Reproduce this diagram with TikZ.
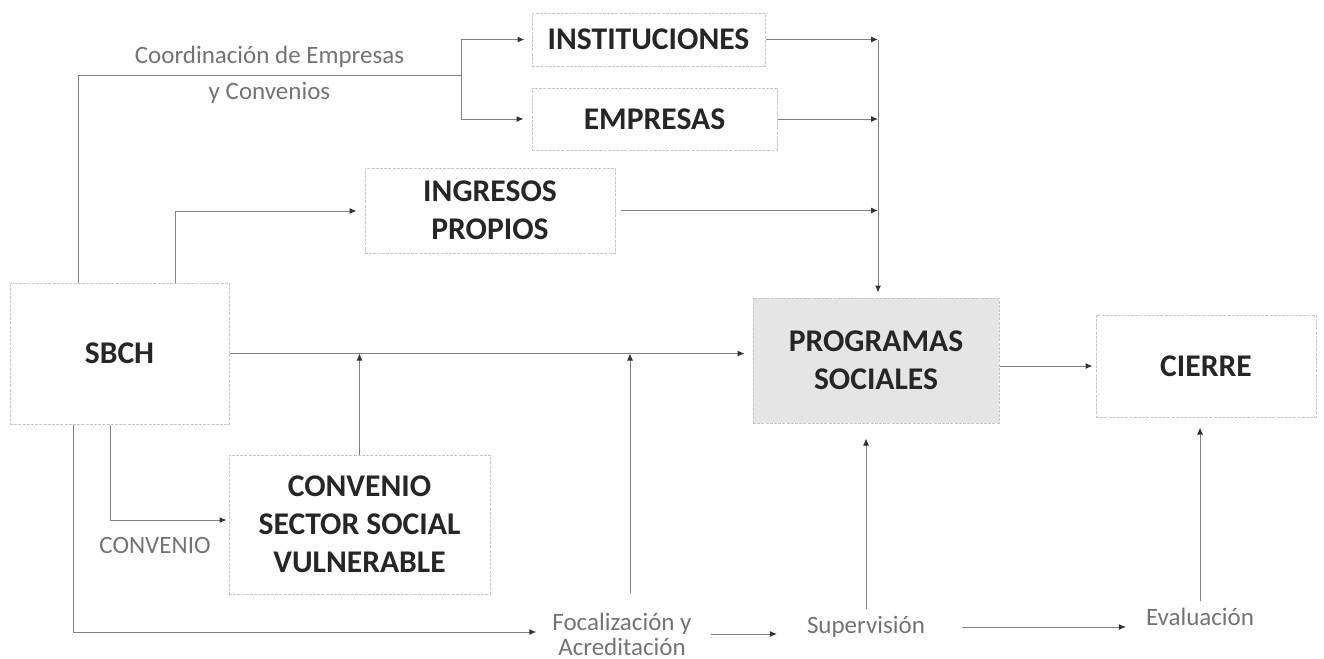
\documentclass[tikz,border=0pt]{standalone}
\usepackage{fontspec}
\setmainfont{Carlito}
\usepackage{tikz}
\usetikzlibrary{arrows.meta}
\usetikzlibrary{calc}

\begin{document}
\begin{tikzpicture}[x=0.5pt, y=-0.5pt,
  caja/.style={draw=black!22, dash pattern=on 1.5pt off 0.6pt, line width=0.5pt, align=center, inner sep=0pt, text=black!85, font=\bfseries\fontsize{15.8}{19}\selectfont},
  cajagris/.style={caja, fill=black!10},
  etiqueta/.style={text=black!55, align=center, font=\fontsize{12.5}{12.5}\selectfont},
  linea/.style={draw=black!50, line width=0.5pt},
  flecha/.style={linea, -{Latex[length=3.5pt,width=3pt,color=black!80]}}]
\useasboundingbox (0,0) rectangle (1324,659);
% cajas
\node[caja, minimum width=116.5pt, minimum height=26.5pt] (inst) at (648.5,39.5) {INSTITUCIONES};
\node[caja, minimum width=122.5pt, minimum height=31pt] (emp) at (654.5,119) {EMPRESAS};
\node[caja, minimum width=125pt, minimum height=42.5pt] (ingr) at (490,210.5) {INGRESOS\\PROPIOS};
\node[caja, minimum width=109.5pt, minimum height=70.5pt] (sbch) at (119.5,353.5) {SBCH};
\node[caja, minimum width=130.5pt, minimum height=69.5pt] (conv) at (359.5,524.5) {CONVENIO\\SECTOR SOCIAL\\VULNERABLE};
\node[cajagris, minimum width=123pt, minimum height=62.5pt] (prog) at (876,360.5) {PROGRAMAS\\SOCIALES};
\node[caja, minimum width=110pt, minimum height=51pt] (cierre) at (1206,366) {CIERRE};
% textos sueltos
\node[etiqueta] (foc) at (622,634) {Focalización y\\Acreditación};
\node[etiqueta] (sup) at (866,627) {Supervisión};
\node[etiqueta] (eva) at (1200,617) {Evaluación};
\node[etiqueta] (lblconv) at (155,545) {CONVENIO};
% quiebres de las lineas
\coordinate (c1) at (78,75);
\coordinate (rama) at (461,75);
\coordinate (c2) at (175,211);
\coordinate (c3) at (110,520);
\coordinate (c4) at (73,632);
\coordinate (c5) at (878,40);
\coordinate (c6) at (630,593);
\draw[linea] (c1 |- sbch.north) -- (c1) -- (rama) node[etiqueta, midway, above] {Coordinación de Empresas} node[etiqueta, midway, below] {y Convenios};
\draw[flecha, shorten >=3.5pt] (rama) -- (rama |- inst) -- (inst);
\draw[flecha, shorten >=4pt] (rama) -- (rama |- emp) -- (emp);
\draw[flecha, shorten >=4pt] (c2 |- sbch.north) -- (c2) -- (c2 -| ingr.west);
\draw[flecha, shorten >=1pt] (c3 |- sbch.south) -- (c3) -- (c3 -| conv.west);
\draw[flecha, shorten >=4.5pt] (c4 |- sbch.south) -- (c4) -- (c4 -| foc.west);
\draw[flecha, shorten >=4pt] (sbch) -- (sbch -| prog.west);
\draw[flecha] (conv) -- (conv |- sbch);
\draw[flecha] (c6) -- (c6 |- sbch);
% hacia programas sociales
\draw[flecha] (inst.east) -- (inst.east -| c5);
\draw[flecha] (emp.east) -- (emp.east -| c5);
\draw[flecha, shorten <=2.5pt] (ingr.east) -- (ingr.east -| c5);
\draw[flecha, shorten >=2.5pt] (c5) -- (c5 |- prog.north);
\draw[flecha, shorten >=1.5pt] (prog.east |- cierre) -- (cierre.west);
% seguimiento
\draw[flecha, shorten <=6pt, shorten >=11.5pt] (foc.east) -- (foc.east -| sup.west);
\draw[flecha, shorten <=15pt, shorten >=6.5pt] (sup.east) -- (sup.east -| eva.west);
\draw[flecha, shorten >=7.5pt] (sup.north) -- (sup.north |- prog.south);
\draw[flecha, shorten >=5pt] (eva.north) -- (eva.north |- cierre.south);
\end{tikzpicture}
\end{document}
